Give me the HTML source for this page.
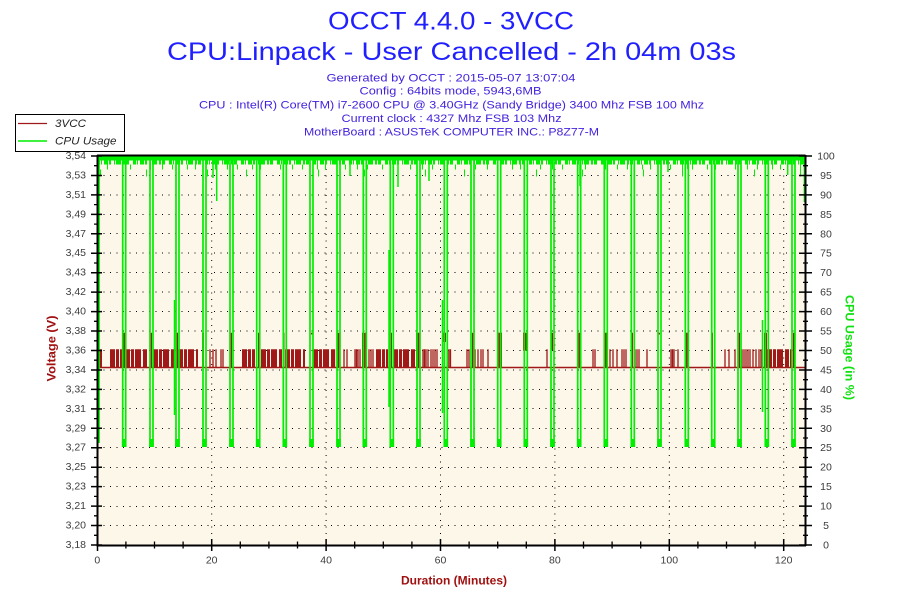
<!DOCTYPE html>
<html><head><meta charset="utf-8"><style>html,body{margin:0;padding:0;background:#fff}svg{display:block}</style></head>
<body>
<svg width="900" height="600" viewBox="0 0 900 600" xmlns="http://www.w3.org/2000/svg" font-family="'Liberation Sans', sans-serif">
<rect x="0" y="0" width="900" height="600" fill="#ffffff"/>
<!-- titles -->
<text x="451" y="29.5" font-size="25" fill="#1f1fff" text-anchor="middle" textLength="246" lengthAdjust="spacingAndGlyphs">OCCT 4.4.0 - 3VCC</text>
<text x="451.5" y="60" font-size="25" fill="#1f1fff" text-anchor="middle" textLength="569" lengthAdjust="spacingAndGlyphs">CPU:Linpack - User Cancelled - 2h 04m 03s</text>
<g font-size="11" fill="#4422dd" text-anchor="middle">
<text x="451" y="81.3" textLength="249" lengthAdjust="spacingAndGlyphs">Generated by OCCT : 2015-05-07 13:07:04</text>
<text x="450.5" y="94.7" textLength="182" lengthAdjust="spacingAndGlyphs">Config : 64bits mode, 5943,6MB</text>
<text x="451.5" y="108.5" textLength="505" lengthAdjust="spacingAndGlyphs">CPU : Intel(R) Core(TM) i7-2600 CPU @ 3.40GHz (Sandy Bridge) 3400 Mhz FSB 100 Mhz</text>
<text x="451.5" y="122" textLength="220" lengthAdjust="spacingAndGlyphs">Current clock : 4327 Mhz FSB 103 Mhz</text>
<text x="451.5" y="135.5" textLength="295" lengthAdjust="spacingAndGlyphs">MotherBoard : ASUSTeK COMPUTER INC.: P8Z77-M</text>
</g>
<!-- plot background -->
<rect x="97" y="156" width="708" height="389" fill="#fdf7e9"/>
<!-- grid -->
<g stroke="#000" stroke-width="1" stroke-dasharray="1 5.5" fill="none">
<path d="M97,525.5H805M97,506.5H805M97,486.5H805M97,467.5H805M97,447.5H805M97,428.5H805M97,408.5H805M97,389.5H805M97,370H805M97,350.5H805M97,331H805M97,311.5H805M97,292H805M97,272.5H805M97,253H805M97,233.5H805M97,214.5H805M97,195H805M97,175.5H805"/>
<path d="M211.7,156V545M326.1,156V545M440.5,156V545M554.9,156V545M669.3,156V545M783.7,156V545"/>
</g>
<!-- 3VCC series -->
<g fill="none" stroke="#a01818">
<path d="M97,367.5H805" stroke-width="1.5"/>
<path stroke-width="18.2" stroke-dasharray="5 1 3 1 6 2 4 1 2 1 7 1" d="M99,358.4H102M110,358.4H122M125,358.4H148M153,358.4H175M178,358.4H198M242,358.4H255M261,358.4H282M285,358.4H305M313,358.4H334M376,358.4H388M393,358.4H415M767,358.4H792"/>
<path stroke-width="1.3" d="M210,367.5V349.3M213,367.5V349.3M216,367.5V349.3M221,367.5V349.3M223,367.5V349.3M334.5,367.5V349.3M344,367.5V349.3M347,367.5V349.3M355,367.5V349.3M356.5,367.5V349.3M358,367.5V349.3M360,367.5V349.3M369,367.5V349.3M371,367.5V349.3M373,367.5V349.3M423,367.5V349.3M424.5,367.5V349.3M426,367.5V349.3M428,367.5V349.3M431,367.5V349.3M433,367.5V349.3M435,367.5V349.3M437,367.5V349.3M447.5,367.5V349.3M449,367.5V349.3M450.5,367.5V349.3M467,367.5V349.3M469,367.5V349.3M475,367.5V349.3M478,367.5V349.3M481,367.5V349.3M483,367.5V349.3M488,367.5V349.3M547,367.5V349.3M593,367.5V349.3M595,367.5V349.3M610,367.5V349.3M613,367.5V349.3M617,367.5V349.3M622,367.5V349.3M624,367.5V349.3M626,367.5V349.3M635,367.5V349.3M637,367.5V349.3M639,367.5V349.3M647,367.5V349.3M661,367.5V349.3M671,367.5V349.3M672.5,367.5V349.3M674,367.5V349.3M678,367.5V349.3M725,367.5V349.3M729,367.5V349.3M735,367.5V349.3M742,367.5V349.3M744,367.5V349.3M746,367.5V349.3M748,367.5V349.3M750,367.5V349.3M753,367.5V349.3M756,367.5V349.3M759,367.5V349.3M761,367.5V349.3M762.5,367.5V349.3M444.5,367.5V342"/>
</g>
<g fill="#a01818">
<rect x="123" y="332.7" width="2" height="34.8"/><rect x="150" y="332.7" width="2" height="34.8"/><rect x="176" y="332.7" width="2" height="34.8"/><rect x="202" y="332.7" width="2" height="34.8"/><rect x="230" y="332.7" width="2" height="34.8"/><rect x="258" y="332.7" width="2" height="34.8"/><rect x="283" y="332.7" width="1.5" height="34.8"/><rect x="336.5" y="332.7" width="3.5" height="34.8"/><rect x="362" y="332.7" width="4" height="34.8"/><rect x="390" y="332.7" width="2" height="34.8"/><rect x="416" y="332.7" width="4" height="34.8"/><rect x="472" y="332.7" width="2" height="34.8"/><rect x="498" y="332.7" width="4" height="34.8"/><rect x="578" y="332.7" width="3" height="34.8"/><rect x="604" y="332.7" width="4" height="34.8"/><rect x="631" y="332.7" width="2" height="34.8"/><rect x="685" y="332.7" width="3" height="34.8"/><rect x="711" y="332.7" width="2" height="34.8"/><rect x="738" y="332.7" width="2" height="34.8"/><rect x="764" y="332.7" width="3" height="34.8"/><rect x="793" y="332.7" width="2" height="34.8"/>
<rect x="443" y="332.7" width="3" height="9.3"/><rect x="523" y="332.7" width="4" height="18"/><rect x="551" y="332.7" width="2" height="17.3"/><rect x="311" y="332.7" width="2" height="1.8"/><rect x="658" y="332.7" width="2" height="1.8"/>
</g>
<!-- CPU usage series -->
<g fill="none" stroke="#00ee00">
<rect x="97" y="155.5" width="708" height="5" fill="#00ee00" stroke="none"/>
<path d="M97,162.5H805" stroke-width="4" stroke-dasharray="3 1 1 2 4 1 2 3 1 1 5 2 2 1 3 4"/>
<path d="M97,167H805" stroke-width="5" stroke-dasharray="1 9 1 14 1 7 1 19 1 11"/>
<path d="M100,173H805" stroke-width="7" stroke-dasharray="1 45 1 60 1 38 1 71"/>
<path stroke-width="1.5" d="M216.7,160V201M398,160V187M429,160V181M668,160V172M687.7,160V169M787.7,160V175M213,160V178M350,160V176M580,160V186"/>
<path stroke-width="1.7" d="M99,443V157M804.5,157V202M122.7,157V446H125.7V157M150,157V446H153V157M176,157V446H179V157M203,157V446H206V157M230,157V446H233V157M256.7,157V446H259.7V157M283.3,157V446H286.3V157M310,157V446H313V157M337,157V446H340V157M363.3,157V446H366.3V157M390.3,157V446H393.3V157M417,157V446H420V157M444.3,157V446H447.3V157M471,157V446H474V157M497.7,157V446H500.7V157M524.3,157V446H527.3V157M551,157V446H554V157M577.7,157V446H580.7V157M604.3,157V446H607.3V157M631.3,157V446H634.3V157M658,157V446H661V157M685.3,157V446H688.3V157M711.7,157V446H714.7V157M738,157V446H741V157M765.3,157V446H768.3V157M792,157V446H795V157"/>
<path stroke-width="1.5" d="M389,250V407M442.5,300V413M762.5,320V412M174.5,300V415"/>
<path stroke-width="4.5" d="M124.2,439V447M151.5,439V447M177.5,439V447M204.5,439V447M231.5,439V447M258.2,439V447M284.8,439V447M311.5,439V447M338.5,439V447M364.8,439V447M391.8,439V447M418.5,439V447M445.8,439V447M472.5,439V447M499.2,439V447M525.8,439V447M552.5,439V447M579.2,439V447M605.8,439V447M632.8,439V447M659.5,439V447M686.8,439V447M713.2,439V447M739.5,439V447M766.8,439V447M793.5,439V447"/>
</g>
<!-- axes -->
<g stroke="#000" fill="none">
<path d="M97,155.5H805.5" stroke-width="2"/>
<path d="M97.5,155V546M96.5,545.5H806M805.5,155V546" stroke-width="2"/>
<path stroke-width="1.5" d="M91,545H102M91,525.55H102M91,506.1H102M91,486.65H102M91,467.2H102M91,447.75H102M91,428.3H102M91,408.85H102M91,389.4H102M91,369.95H102M91,350.5H102M91,331.05H102M91,311.6H102M91,292.15H102M91,272.7H102M91,253.25H102M91,233.8H102M91,214.35H102M91,194.9H102M91,175.45H102M91,156H102"/>
<path stroke-width="1.3" d="M94,535.3H98.5M94,515.8H98.5M94,496.4H98.5M94,476.9H98.5M94,457.5H98.5M94,438H98.5M94,418.6H98.5M94,399.1H98.5M94,379.7H98.5M94,360.2H98.5M94,340.8H98.5M94,321.3H98.5M94,301.9H98.5M94,282.4H98.5M94,263H98.5M94,243.5H98.5M94,224.1H98.5M94,204.6H98.5M94,185.2H98.5M94,165.7H98.5"/>
<path stroke-width="1.5" d="M799,545H812M799,525.55H812M799,506.1H812M799,486.65H812M799,467.2H812M799,447.75H812M799,428.3H812M799,408.85H812M799,389.4H812M799,369.95H812M799,350.5H812M799,331.05H812M799,311.6H812M799,292.15H812M799,272.7H812M799,253.25H812M799,233.8H812M799,214.35H812M799,194.9H812M799,175.45H812M799,156H812"/>
<path stroke-width="1.3" d="M803,535.3H808M803,515.8H808M803,496.4H808M803,476.9H808M803,457.5H808M803,438H808M803,418.6H808M803,399.1H808M803,379.7H808M803,360.2H808M803,340.8H808M803,321.3H808M803,301.9H808M803,282.4H808M803,263H808M803,243.5H808M803,224.1H808M803,204.6H808M803,185.2H808M803,165.7H808"/>
<path stroke-width="1.5" d="M97.5,539V551M211.7,539V551M326.1,539V551M440.5,539V551M554.9,539V551M669.3,539V551M783.7,539V551"/>
<path stroke-width="1.3" d="M125.9,541.5V548.5M154.5,541.5V548.5M183.1,541.5V548.5M240.3,541.5V548.5M268.9,541.5V548.5M297.5,541.5V548.5M354.7,541.5V548.5M383.3,541.5V548.5M411.9,541.5V548.5M469.1,541.5V548.5M497.7,541.5V548.5M526.3,541.5V548.5M583.5,541.5V548.5M612.1,541.5V548.5M640.7,541.5V548.5M697.9,541.5V548.5M726.5,541.5V548.5M755.1,541.5V548.5"/>
</g>
<!-- left labels -->
<g font-size="10.5" fill="#3c3c3c" text-anchor="end">
<text x="86" y="548">3,18</text><text x="86" y="528.5">3,20</text><text x="86" y="509">3,21</text><text x="86" y="489.6">3,23</text><text x="86" y="470.2">3,25</text><text x="86" y="450.7">3,27</text><text x="86" y="431.3">3,29</text><text x="86" y="411.8">3,31</text><text x="86" y="392.4">3,32</text><text x="86" y="372.9">3,34</text><text x="86" y="353.5">3,36</text><text x="86" y="334">3,38</text><text x="86" y="314.6">3,40</text><text x="86" y="295.1">3,42</text><text x="86" y="275.7">3,43</text><text x="86" y="256.2">3,45</text><text x="86" y="236.8">3,47</text><text x="86" y="217.3">3,49</text><text x="86" y="197.9">3,51</text><text x="86" y="178.4">3,53</text><text x="86" y="159">3,54</text>
</g>
<!-- right labels -->
<g font-size="10.5" fill="#3c3c3c" text-anchor="middle">
<text x="826" y="548.5">0</text><text x="826" y="529">5</text><text x="826" y="509.6">10</text><text x="826" y="490.1">15</text><text x="826" y="470.7">20</text><text x="826" y="451.2">25</text><text x="826" y="431.8">30</text><text x="826" y="412.3">35</text><text x="826" y="392.9">40</text><text x="826" y="373.4">45</text><text x="826" y="354">50</text><text x="826" y="334.5">55</text><text x="826" y="315.1">60</text><text x="826" y="295.6">65</text><text x="826" y="276.2">70</text><text x="826" y="256.7">75</text><text x="826" y="237.3">80</text><text x="826" y="217.8">85</text><text x="826" y="198.4">90</text><text x="826" y="178.9">95</text><text x="826" y="159.5">100</text>
</g>
<!-- bottom labels -->
<g font-size="10.5" fill="#3c3c3c" text-anchor="middle">
<text x="97.3" y="563.5">0</text><text x="211.7" y="563.5">20</text><text x="326.1" y="563.5">40</text><text x="440.5" y="563.5">60</text><text x="554.9" y="563.5">80</text><text x="669.3" y="563.5">100</text><text x="783.7" y="563.5">120</text>
</g>
<!-- axis titles -->
<text x="454" y="584.3" font-size="12" font-weight="bold" fill="#a01010" text-anchor="middle" textLength="106" lengthAdjust="spacingAndGlyphs">Duration (Minutes)</text>
<text transform="translate(55.5,348.5) rotate(-90)" font-size="12" font-weight="bold" fill="#a01010" text-anchor="middle" textLength="66" lengthAdjust="spacingAndGlyphs">Voltage (V)</text>
<text transform="translate(845.5,347.5) rotate(90)" font-size="12" font-weight="bold" fill="#11e011" text-anchor="middle" textLength="105" lengthAdjust="spacingAndGlyphs">CPU Usage (in %)</text>
<!-- legend -->
<rect x="15.5" y="114.5" width="109" height="37" fill="#ffffff" stroke="#000" stroke-width="1"/>
<path d="M18,123.5H47" stroke="#a01818" stroke-width="1.2"/>
<path d="M18,141H47" stroke="#00ee00" stroke-width="1.5"/>
<text x="55" y="127" font-size="11" font-style="italic" fill="#222" textLength="31" lengthAdjust="spacingAndGlyphs">3VCC</text>
<text x="55" y="144.5" font-size="11" font-style="italic" fill="#222" textLength="61.5" lengthAdjust="spacingAndGlyphs">CPU Usage</text>
</svg>
</body></html>
